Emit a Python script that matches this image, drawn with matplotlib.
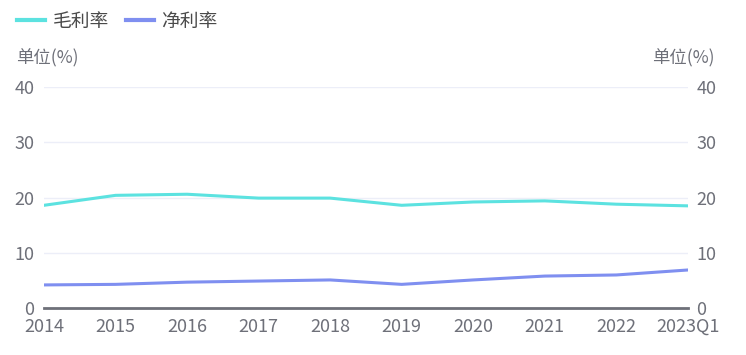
import numpy as np
import matplotlib.pyplot as plt
from matplotlib.lines import Line2D

plt.rcParams['font.family'] = ['Noto Sans CJK SC', 'DejaVu Sans']

# data
years = ['2014', '2015', '2016', '2017', '2018', '2019', '2020', '2021', '2022', '2023Q1']
gross = [18.6, 20.4, 20.6, 19.9, 19.9, 18.6, 19.2, 19.4, 18.8, 18.5]
net = [4.2, 4.3, 4.7, 4.9, 5.1, 4.3, 5.1, 5.8, 6.0, 6.9]
yticks = [0, 10, 20, 30, 40]

c_gross = '#5ce2e0'
c_net = '#7f8ff0'
c_text = '#6e7079'

fig = plt.figure(figsize=(7.46, 3.55), dpi=100)
ax = fig.add_axes([0.059, 0.132, 0.863, 0.623])
x = np.arange(len(years))
ax.plot(x, gross, color=c_gross, lw=2.2)
ax.plot(x, net, color=c_net, lw=2.2)

ax.set_xlim(0, len(years) - 1)
ax.set_ylim(0, 40)
ax.set_yticks(yticks)
ax.set_xticks(x)
ax.set_xticklabels(years)
for y in yticks[1:]:
    ax.axhline(y, color='#eceef8', lw=1, zorder=0)
ax.axhline(0, color='#6e7079', lw=2, zorder=3, clip_on=False)

for s in ax.spines.values():
    s.set_visible(False)
ax.tick_params(axis='both', length=0, colors=c_text, labelsize=13)
ax.tick_params(axis='x', pad=7)
ax.tick_params(axis='y', pad=7)

ax2 = ax.twinx()
ax2.set_ylim(0, 40)
ax2.set_yticks(yticks)
for s in ax2.spines.values():
    s.set_visible(False)
ax2.tick_params(axis='y', length=0, colors=c_text, labelsize=13, pad=6)

fig.text(0.022, 0.835, '单位(%)', color=c_text, fontsize=12.5, va='center')
fig.text(0.958, 0.835, '单位(%)', color=c_text, fontsize=12.5, va='center', ha='right')

handles = [Line2D([], [], color=c_gross, lw=3), Line2D([], [], color=c_net, lw=3)]
fig.legend(handles, ['毛利率', '净利率'], loc='upper left', bbox_to_anchor=(0.0, 1.018),
           ncol=2, frameon=False, fontsize=13.5, handlelength=1.5, handletextpad=0.4,
           columnspacing=0.9, labelcolor='#4a4a4a')

fig.savefig('out.png', dpi=100)
